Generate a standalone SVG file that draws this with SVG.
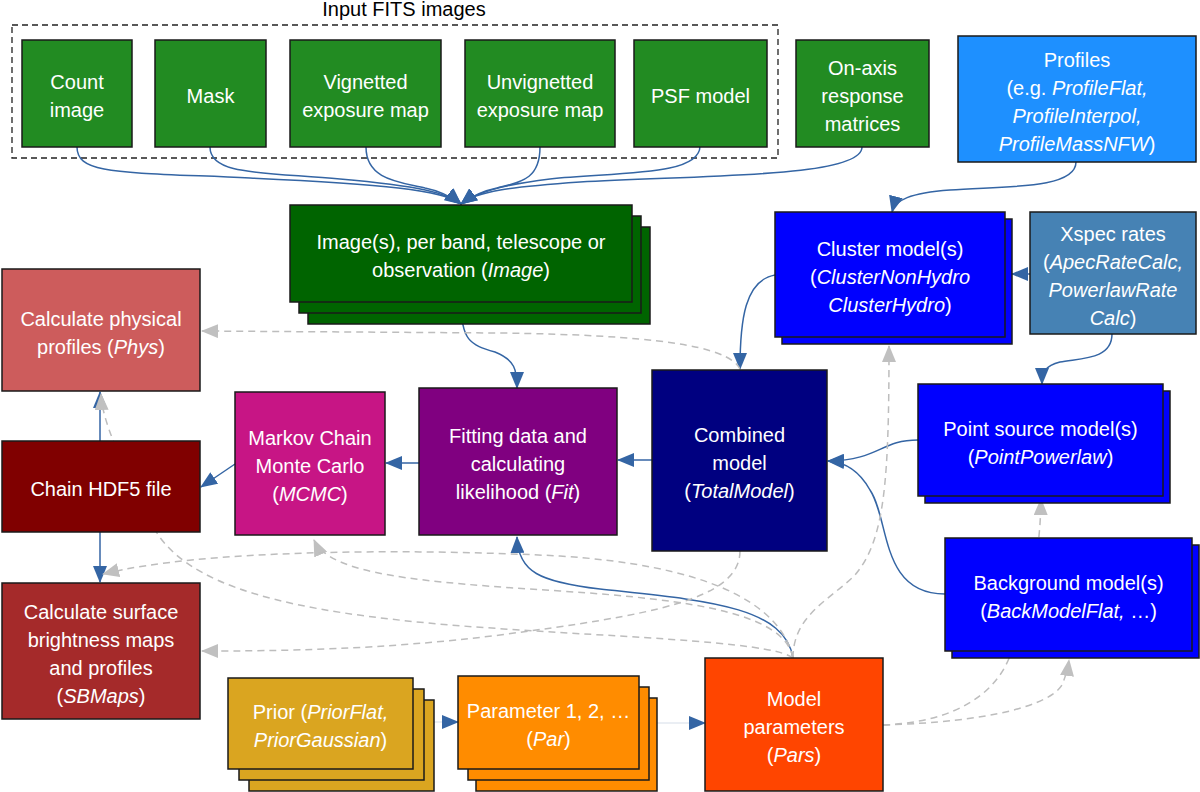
<svg xmlns="http://www.w3.org/2000/svg" width="1200" height="792" viewBox="0 0 1200 792">
<style>
.n{stroke:#1a1a1a;stroke-width:1.5}
.t{font-family:"Liberation Sans",Arial,sans-serif;font-size:20px;fill:#ffffff;text-anchor:middle}
.i{font-style:italic}
.b{fill:none;stroke:#3465a4;stroke-width:1.5;marker-end:url(#ab)}
.g{fill:none;stroke:#bdbdbd;stroke-width:1.5;stroke-dasharray:7,5;marker-end:url(#ag)}
.f{fill:none;stroke:#d5dde8;stroke-width:1;marker-end:url(#ab)}
.gr{fill:#228B22}
.bl{fill:#0000FF}
</style>
<defs>
<marker id="ab" markerUnits="userSpaceOnUse" markerWidth="17" markerHeight="14" refX="16" refY="7" orient="auto"><path d="M0,0 L17,7 L0,14 z" fill="#3465a4"/></marker>
<marker id="ag" markerUnits="userSpaceOnUse" markerWidth="17" markerHeight="14" refX="16" refY="7" orient="auto"><path d="M0,0 L17,7 L0,14 z" fill="#c0c0c0"/></marker>
</defs>
<rect width="1200" height="792" fill="#ffffff"/>

<g id="input-group">
<rect x="12" y="25" width="766" height="133" fill="none" stroke="#222" stroke-width="1.3" stroke-dasharray="6,4"/>
<text x="404" y="16" font-family="Liberation Sans,Arial,sans-serif" font-size="20" text-anchor="middle" fill="#000">Input FITS images</text>
</g>

<g id="connectors">
<path class="b" d="M77,147 C77,175 120,172 250,178 C380,184 445,190 461,204"/>
<path class="b" d="M210,147 C210,175 260,172 340,179 C420,186 447,193 461,204"/>
<path class="b" d="M366,147 C366,180 400,182 425,188 C440,191 450,196 461,204"/>
<path class="b" d="M540,147 C540,180 520,182 497,188 C482,191 472,196 461,204"/>
<path class="b" d="M700,146 C700,176 620,172 550,179 C500,185 476,193 461,204"/>
<path class="b" d="M862,147 C862,178 700,175 580,182 C510,187 477,191 461,204"/>
<path class="b" d="M461,302 C461,340 470,345 495,352 C515,360 517,370 517,388"/>
<path class="b" d="M1076,162 C1076,190 1000,186 950,190 C910,193 895,200 892,212"/>
<path class="b" d="M1030,274 L1012,274"/>
<path class="b" d="M1112,334 C1112,360 1080,358 1060,362 C1045,366 1042,372 1042,384"/>
<path class="b" d="M775,275 C745,280 740,320 740,369"/>
<path class="b" d="M918,440 C880,440 880,460 828,461"/>
<path class="b" d="M945,594 C880,594 890,520 870,490 C860,472 845,462 828,461"/>
<path class="b" d="M652,460 L618,460"/>
<path class="b" d="M419,463 L386,463"/>
<path class="b" d="M235,464 L201,487"/>
<path class="b" d="M100,441 L100,392"/>
<path class="b" d="M100,532 L100,582"/>
<path class="b" d="M793,658 C785,605 700,600 600,589 C540,582 518,572 517,537"/>
<path class="f" d="M434,722 L458,722"/>
<path class="f" d="M657,723 L705,723"/>
<path class="g" d="M740,369 C728,345 650,335 500,333 L202,331"/>
<path class="g" d="M793,658 C785,615 700,600 560,591 C420,582 330,575 314,540"/>
<path class="g" d="M793,658 C780,600 700,565 560,556 C400,548 200,550 103,574"/>
<path class="g" d="M793,658 C770,640 600,637 450,625 C300,612 180,590 150,520 C120,460 102,420 101,394"/>
<path class="g" d="M793,658 C793,615 830,600 855,575 C885,540 889,480 889,346"/>
<path class="g" d="M740,551 C740,600 650,615 500,635 C380,650 280,651 202,651"/>
<path class="g" d="M883,725 C990,722 1050,705 1062,685 C1066,675 1068,668 1069,660"/>
<path class="g" d="M883,725 C960,722 1000,690 1012,650 C1030,590 1040,560 1041,499"/>
</g>

<g id="count-image"><rect class="n gr" x="22" y="40" width="110" height="107"/><text class="t" x="77" y="89">Count</text><text class="t" x="77" y="117">image</text></g>
<g id="mask"><rect class="n gr" x="155" y="40" width="111" height="107"/><text class="t" x="210.5" y="103">Mask</text></g>
<g id="vignetted"><rect class="n gr" x="290" y="40" width="151" height="107"/><text class="t" x="365.5" y="89">Vignetted</text><text class="t" x="365.5" y="117">exposure map</text></g>
<g id="unvignetted"><rect class="n gr" x="465" y="40" width="150" height="107"/><text class="t" x="540" y="89">Unvignetted</text><text class="t" x="540" y="117">exposure map</text></g>
<g id="psf"><rect class="n gr" x="634" y="40" width="133" height="107"/><text class="t" x="700.5" y="103">PSF model</text></g>
<g id="onaxis"><rect class="n gr" x="796" y="40" width="133" height="107"/><text class="t" x="862.5" y="75">On-axis</text><text class="t" x="862.5" y="103">response</text><text class="t" x="862.5" y="131">matrices</text></g>

<g id="profiles"><rect class="n" fill="#1E90FF" x="958" y="36" width="238" height="126"/>
<text class="t" x="1077" y="66.5">Profiles</text>
<text class="t" x="1077" y="94.5">(e.g. <tspan class="i">ProfileFlat,</tspan></text>
<text class="t i" x="1077" y="122.5">ProfileInterpol,</text>
<text class="t" x="1077" y="150.5"><tspan class="i">ProfileMassNFW</tspan>)</text></g>

<g id="image"><rect class="n" fill="#006400" x="308" y="227" width="342" height="97"/><rect class="n" fill="#006400" x="299" y="216" width="342" height="97"/><rect class="n" fill="#006400" x="290" y="205" width="342" height="97"/>
<text class="t" x="461" y="249">Image(s), per band, telescope or</text>
<text class="t" x="461" y="277">observation (<tspan class="i">Image</tspan>)</text></g>

<g id="cluster"><rect class="n bl" x="782" y="219" width="230" height="125"/><rect class="n bl" x="775" y="212" width="230" height="125"/>
<text class="t" x="890" y="256">Cluster model(s)</text>
<text class="t" x="890" y="284">(<tspan class="i">ClusterNonHydro</tspan></text>
<text class="t" x="890" y="312"><tspan class="i">ClusterHydro</tspan>)</text></g>

<g id="xspec"><rect class="n" fill="#4682B4" x="1030" y="212" width="166" height="122"/>
<text class="t" x="1113" y="241">Xspec rates</text>
<text class="t" x="1113" y="269">(<tspan class="i">ApecRateCalc,</tspan></text>
<text class="t i" x="1113" y="297">PowerlawRate</text>
<text class="t" x="1113" y="325"><tspan class="i">Calc</tspan>)</text></g>

<g id="phys"><rect class="n" fill="#CD5C5C" x="2" y="269" width="198" height="122"/>
<text class="t" x="101" y="325.5">Calculate physical</text>
<text class="t" x="101" y="353.5">profiles (<tspan class="i">Phys</tspan>)</text></g>

<g id="chain"><rect class="n" fill="#800000" x="2" y="441" width="198" height="91"/>
<text class="t" x="101" y="496">Chain HDF5 file</text></g>

<g id="mcmc"><rect class="n" fill="#C71585" x="235" y="392" width="150" height="143"/>
<text class="t" x="310" y="445">Markov Chain</text>
<text class="t" x="310" y="473">Monte Carlo</text>
<text class="t" x="310" y="501">(<tspan class="i">MCMC</tspan>)</text></g>

<g id="fit"><rect class="n" fill="#800080" x="419" y="388" width="198" height="147"/>
<text class="t" x="518" y="443">Fitting data and</text>
<text class="t" x="518" y="471">calculating</text>
<text class="t" x="518" y="499">likelihood (<tspan class="i">Fit</tspan>)</text></g>

<g id="combined"><rect class="n" fill="#000080" x="652" y="370" width="175" height="181"/>
<text class="t" x="739.5" y="442">Combined</text>
<text class="t" x="739.5" y="470">model</text>
<text class="t" x="739.5" y="498">(<tspan class="i">TotalModel</tspan>)</text></g>

<g id="point"><rect class="n bl" x="925" y="391" width="245" height="112"/><rect class="n bl" x="918" y="384" width="245" height="112"/>
<text class="t" x="1040.5" y="435.5">Point source model(s)</text>
<text class="t" x="1040.5" y="463.5">(<tspan class="i">PointPowerlaw</tspan>)</text></g>

<g id="background"><rect class="n bl" x="952" y="545" width="247" height="113"/><rect class="n bl" x="945" y="538" width="247" height="113"/>
<text class="t" x="1068.5" y="590">Background model(s)</text>
<text class="t" x="1068.5" y="618">(<tspan class="i">BackModelFlat,</tspan> …)</text></g>

<g id="sbmaps"><rect class="n" fill="#A52A2A" x="2" y="583" width="198" height="136"/>
<text class="t" x="101" y="618.5">Calculate surface</text>
<text class="t" x="101" y="646.5">brightness maps</text>
<text class="t" x="101" y="674.5">and profiles</text>
<text class="t" x="101" y="702.5">(<tspan class="i">SBMaps</tspan>)</text></g>

<g id="prior"><rect class="n" fill="#DAA520" x="249" y="700" width="185" height="91"/><rect class="n" fill="#DAA520" x="239" y="689" width="185" height="91"/><rect class="n" fill="#DAA520" x="228" y="678" width="185" height="91"/>
<text class="t" x="320.5" y="719">Prior (<tspan class="i">PriorFlat,</tspan></text>
<text class="t" x="320.5" y="747"><tspan class="i">PriorGaussian</tspan>)</text></g>

<g id="parameter"><rect class="n" fill="#FF8C00" x="476" y="698" width="181" height="93"/><rect class="n" fill="#FF8C00" x="468" y="687" width="181" height="93"/><rect class="n" fill="#FF8C00" x="458" y="676" width="181" height="93"/>
<text class="t" x="548.5" y="718">Parameter 1, 2, …</text>
<text class="t" x="548.5" y="746">(<tspan class="i">Par</tspan>)</text></g>

<g id="model-params"><rect class="n" fill="#FF4500" x="705" y="658" width="178" height="133"/>
<text class="t" x="794" y="706">Model</text>
<text class="t" x="794" y="734">parameters</text>
<text class="t" x="794" y="762">(<tspan class="i">Pars</tspan>)</text></g>
</svg>
